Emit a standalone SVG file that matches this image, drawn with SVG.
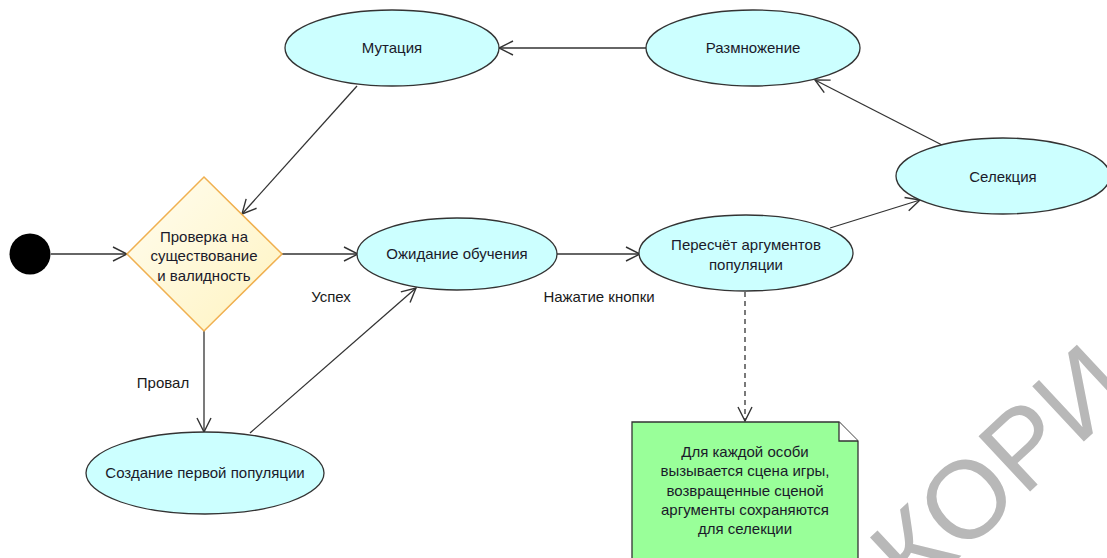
<svg xmlns="http://www.w3.org/2000/svg" width="1107" height="558" viewBox="0 0 1107 558">
<defs>
<style>
.node{fill:#ccffff;stroke:#333;stroke-width:1.3}
.t{font-family:"Liberation Sans",Arial,sans-serif;font-size:15px;fill:#1a1a2a;text-anchor:middle}
.lbl{font-family:"Liberation Sans",Arial,sans-serif;font-size:15px;fill:#1a1a1a;text-anchor:middle}
.edge{stroke:#333;stroke-width:1.3;fill:none}
.wm{font-family:"Liberation Sans",Arial,sans-serif;font-size:110px;fill:#b8b8b8}
</style>
<marker id="arr" viewBox="0 0 16 16" refX="15" refY="8" markerWidth="16" markerHeight="16" markerUnits="userSpaceOnUse" orient="auto">
<path d="M1,1 L15,8 L1,15" fill="none" stroke="#333" stroke-width="1.4"/>
</marker>
<linearGradient id="dg" x1="0" y1="0" x2="1" y2="1">
<stop offset="0" stop-color="#fffdf0"/>
<stop offset="1" stop-color="#fff3c0"/>
</linearGradient>
</defs>
<rect width="1107" height="558" fill="#fff"/>

<g id="watermark">
<text class="wm" x="915" y="599" transform="rotate(-43 915 599)">КОРИ</text>
</g>

<g id="connectors">
<line class="edge" x1="51" y1="254" x2="127" y2="254" marker-end="url(#arr)"/>
<line class="edge" x1="282" y1="254" x2="358" y2="254" marker-end="url(#arr)"/>
<line class="edge" x1="557" y1="254" x2="640" y2="254" marker-end="url(#arr)"/>
<line class="edge" x1="830" y1="228" x2="920" y2="200" marker-end="url(#arr)"/>
<line class="edge" x1="942" y1="145" x2="815" y2="80" marker-end="url(#arr)"/>
<line class="edge" x1="647" y1="48" x2="499" y2="48" marker-end="url(#arr)"/>
<line class="edge" x1="357" y1="86" x2="242" y2="214" marker-end="url(#arr)"/>
<line class="edge" x1="204" y1="331" x2="204" y2="432" marker-end="url(#arr)"/>
<line class="edge" x1="250" y1="433" x2="416" y2="288" marker-end="url(#arr)"/>
<line class="edge" x1="745" y1="292" x2="745" y2="421" stroke-dasharray="5,4" marker-end="url(#arr)"/>
<text class="lbl" x="331" y="302">Успех</text>
<text class="lbl" x="599" y="302">Нажатие кнопки</text>
<text class="lbl" x="163" y="388">Провал</text>
</g>

<g id="start">
<circle cx="30" cy="254" r="20.5" fill="#000"/>
</g>

<g id="check">
<polygon points="204,177 282,254 204,331 127,254" fill="url(#dg)" stroke="#f0b050" stroke-width="1.5"/>
<text class="t" x="204" y="242">Проверка на</text>
<text class="t" x="204" y="261">существование</text>
<text class="t" x="204" y="281">и валидность</text>
</g>

<g id="mutation">
<ellipse class="node" cx="392" cy="48" rx="107" ry="38"/>
<text class="t" x="392" y="53">Мутация</text>
</g>

<g id="reproduction">
<ellipse class="node" cx="753" cy="48" rx="107" ry="38"/>
<text class="t" x="753" y="53">Размножение</text>
</g>

<g id="selection">
<ellipse class="node" cx="1003" cy="176" rx="107" ry="38"/>
<text class="t" x="1003" y="182">Селекция</text>
</g>

<g id="waiting">
<ellipse class="node" cx="457" cy="254" rx="100" ry="36"/>
<text class="t" x="457" y="259">Ожидание обучения</text>
</g>

<g id="recalc">
<ellipse class="node" cx="746" cy="253" rx="107" ry="38"/>
<text class="t" x="746" y="250">Пересчёт аргументов</text>
<text class="t" x="746" y="270">популяции</text>
</g>

<g id="create">
<ellipse class="node" cx="205" cy="473" rx="119" ry="41"/>
<text class="t" x="205" y="478">Создание первой популяции</text>
</g>

<g id="note">
<path d="M632,422 L839,422 L858,441 L858,560 L632,560 Z" fill="#99ff99" stroke="#333" stroke-width="1.3"/>
<path d="M839,422 L839,441 L858,441" fill="#fff" stroke="#333" stroke-width="1.3"/>
<text class="t" x="745" y="457">Для каждой особи</text>
<text class="t" x="745" y="476">вызывается сцена игры,</text>
<text class="t" x="745" y="496">возвращенные сценой</text>
<text class="t" x="745" y="515">аргументы сохраняются</text>
<text class="t" x="745" y="534">для селекции</text>
</g>
</svg>
